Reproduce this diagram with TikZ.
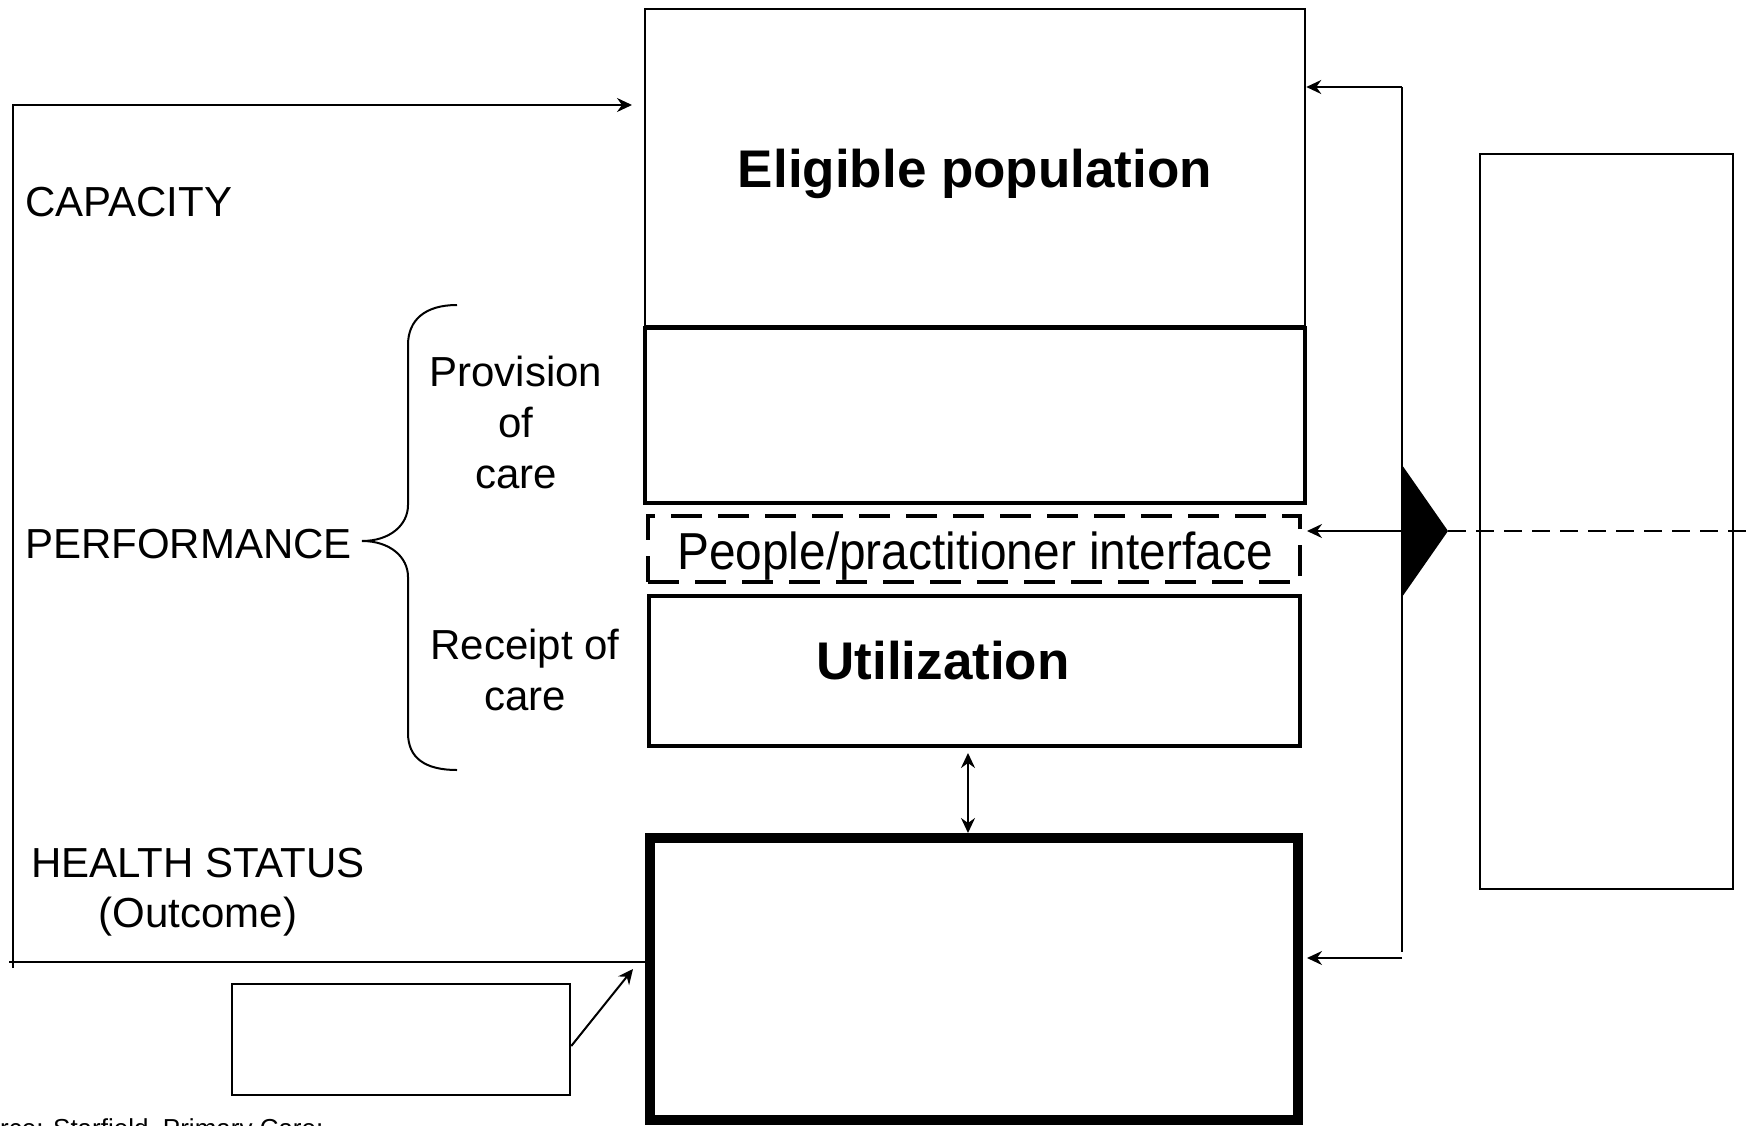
\documentclass[tikz,border=0pt]{standalone}
\usepackage{fontspec}
\setmainfont{Liberation Sans}
\usetikzlibrary{arrows.meta}
\begin{document}
\begin{tikzpicture}[x=1pt,y=-1pt,
  box/.style={draw,rectangle,inner sep=0pt,anchor=center},
  lbl/.style={inner sep=0pt,anchor=base},
  conn/.style={line width=2pt},
  tipa/.tip={Stealth[length=15pt,width=14pt,inset=5pt]},
  arr/.style={conn,-tipa},
  fa/.style={font=\fontsize{42}{50}\selectfont},
  fb/.style={font=\fontsize{53}{60}\selectfont\bfseries},
  fc/.style={font=\fontsize{52}{60}\selectfont},
  fs/.style={font=\fontsize{26}{30}\selectfont}
]
\useasboundingbox (0,0) rectangle (1747,1126);

% boxes
\node[box,line width=2.5pt,minimum width=660pt,minimum height=317pt] (elig) at (975,167.5) {};
\node[box,line width=4.5pt,minimum width=660pt,minimum height=175pt] (prov) at (975,415.5) {};
\node[box,line width=4pt,dash pattern=on 31pt off 16pt,minimum width=652pt,minimum height=66pt] (iface) at (974,549) {};
\node[box,line width=4pt,minimum width=651pt,minimum height=150pt] (util) at (974.5,671) {};
\node[box,line width=10pt,minimum width=648pt,minimum height=282pt] (health) at (974,979) {};
\node[box,line width=2.5pt,minimum width=253pt,minimum height=735pt] (tall) at (1606.5,521.5) {};
\node[box,line width=2.5pt,minimum width=338pt,minimum height=111pt] (small) at (401,1039.5) {};

% texts
\node[lbl,fa,anchor=base west] (cap) at (25,216) {CAPACITY};
\node[lbl,fa,anchor=base west] (perf) at (25,558) {PERFORMANCE};
\node[lbl,fa] (hs1) at (198,877) {HEALTH STATUS};
\node[lbl,fa] (hs2) at (198,927) {(Outcome)};
\node[lbl,fa] (pv1) at (516,386) {Provision};
\node[lbl,fa] (pv2) at (516,437) {of};
\node[lbl,fa] (pv3) at (516,488) {care};
\node[lbl,fa] (rc1) at (525,659) {Receipt of};
\node[lbl,fa] (rc2) at (525,710) {care};
\node[lbl,fb] (eltx) at (975,188) {Eligible population};
\node[lbl,fc] (iftx) at (975,569) {\scalebox{0.92}[1]{People/practitioner interface}};
\node[lbl,fb] (uttx) at (943,679) {Utilization};
\node[lbl,fs,anchor=base west] (src) at (0,1137) {rce: Starfield, Primary Care:};

% brace
\draw[line width=2pt] (457,305) .. controls (425,305) and (408,320) .. (408,345) -- (408,505)
  .. controls (408,525) and (390,541) .. (362,541)
  .. controls (390,541) and (408,557) .. (408,577) -- (408,733)
  .. controls (408,758) and (425,770) .. (457,770);

% left feedback
\coordinate (lt) at (13,105);
\coordinate (lb) at (13,968);
\coordinate (lbx) at (9,962);
\coordinate (capin) at (632,105);
\draw[conn] (lbx -| health.west) -- (lbx);
\draw[arr] (lb) -- (lt) -- (capin);

% right loop
\coordinate (rt) at (1402,87);
\coordinate (rb) at (1402,952);
\coordinate (rb2) at (1402,958);
\coordinate (rm) at (1402,531);
\coordinate (rtop) at (1402,465);
\coordinate (rbot) at (1402,597);
\coordinate (tip) at (1448,531);
\coordinate (dend) at (1747,531);
\draw[conn] (rt) -- (rb);
\draw[arr] (rt) -- (rt -| elig.east);
\draw[arr,shorten >=4pt] (rb2) -- (rb2 -| health.east);
\draw[arr,shorten >=5pt] (rm) -- (rm -| iface.east);
\fill (rtop) -- (tip) -- (rbot) -- cycle;
\draw[conn,dash pattern=on 18pt off 10pt] (tip) -- (dend);

% util <-> health
\coordinate (dbl) at (968,800);
\draw[conn,tipa-tipa,shorten <=5pt] (util.south -| dbl) -- (health.north -| dbl);

% small box to health
\coordinate (dtip) at (633,969);
\draw[arr] ([yshift=-6.5pt]small.east) -- (dtip);
\end{tikzpicture}
\end{document}
